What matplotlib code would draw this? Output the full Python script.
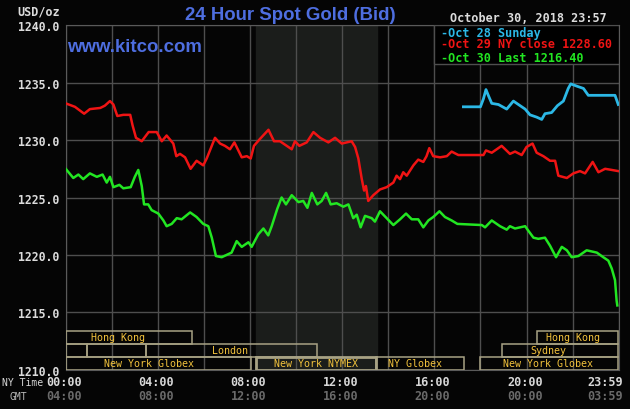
import matplotlib
matplotlib.use("Agg")
import matplotlib.pyplot as plt
import matplotlib.transforms as mtransforms
from matplotlib.patches import Rectangle

# hours after 00:00 NY time -> price in USD/oz
red_t = [0.0, 0.4, 0.8, 1.05, 1.5, 1.7, 1.92, 2.07, 2.24, 2.5, 2.8, 2.9, 3.05, 3.3, 3.6, 3.95,
         4.17, 4.38, 4.67, 4.8, 4.96, 5.18, 5.42, 5.68, 5.97, 6.12, 6.48, 6.7, 6.91, 7.13, 7.32,
         7.64, 7.86, 8.03, 8.17, 8.43, 8.8, 9.04, 9.3, 9.52, 9.81, 9.95, 10.14, 10.46, 10.75,
         11.04, 11.4, 11.69, 11.98, 12.41, 12.56, 12.7, 12.85, 12.95, 13.03, 13.13, 13.35, 13.64,
         13.93, 14.22, 14.36, 14.51, 14.65, 14.8, 15.09, 15.3, 15.52, 15.66, 15.78, 15.95, 16.25,
         16.54, 16.75, 17.04, 18.13, 18.24, 18.49, 18.92, 19.28, 19.5, 19.79, 20.0, 20.26, 20.44,
         20.73, 21.02, 21.24, 21.38, 21.75, 22.03, 22.32, 22.54, 22.87, 23.12, 23.41, 23.7, 23.98]
red_p = [1233.2, 1232.9, 1232.3, 1232.7, 1232.8, 1233.0, 1233.4, 1233.1, 1232.1, 1232.2, 1232.2,
         1231.3, 1230.2, 1229.9, 1230.7, 1230.7, 1229.9, 1230.4, 1229.7, 1228.6, 1228.8, 1228.5,
         1227.5, 1228.2, 1227.8, 1228.4, 1230.2, 1229.7, 1229.5, 1229.2, 1229.8, 1228.5, 1228.6,
         1228.4, 1229.5, 1230.1, 1230.9, 1229.9, 1229.9, 1229.6, 1229.2, 1229.9, 1229.5, 1229.8,
         1230.7, 1230.2, 1229.8, 1230.2, 1229.7, 1229.9, 1229.4, 1228.4, 1226.6, 1225.6, 1226.0,
         1224.7, 1225.2, 1225.7, 1225.9, 1226.3, 1226.9, 1226.6, 1227.2, 1226.9, 1227.8, 1228.3,
         1228.1, 1228.6, 1229.3, 1228.6, 1228.5, 1228.6, 1229.0, 1228.7, 1228.7, 1229.1, 1228.9,
         1229.5, 1228.8, 1229.0, 1228.7, 1229.4, 1229.7, 1228.9, 1228.6, 1228.2, 1228.2, 1226.9,
         1226.7, 1227.1, 1227.3, 1227.1, 1228.1, 1227.2, 1227.5, 1227.4, 1227.3]

green_t = [0.0, 0.33, 0.55, 0.76, 1.05, 1.35, 1.6, 1.78, 1.92, 2.07, 2.33, 2.5, 2.82, 3.0, 3.15,
           3.3, 3.4, 3.58, 3.73, 4.02, 4.24, 4.38, 4.6, 4.82, 5.03, 5.4, 5.68, 5.97, 6.19, 6.34,
           6.52, 6.77, 7.2, 7.42, 7.64, 7.93, 8.07, 8.36, 8.58, 8.79, 8.94, 9.18, 9.37, 9.56, 9.81,
           10.1, 10.31, 10.49, 10.68, 10.92, 11.11, 11.3, 11.5, 11.76, 12.05, 12.27, 12.48, 12.63,
           12.8, 12.99, 13.28, 13.42, 13.64, 13.93, 14.22, 14.51, 14.77, 15.02, 15.3, 15.52, 15.74,
           15.95, 16.22, 16.46, 16.75, 17.0, 18.06, 18.2, 18.49, 18.85, 19.14, 19.28, 19.5, 19.94,
           20.08, 20.3, 20.51, 20.8, 21.02, 21.28, 21.53, 21.75, 21.96, 22.25, 22.61, 23.05, 23.33,
           23.55, 23.7, 23.84, 23.91, 23.94]
green_p = [1227.5, 1226.7, 1227.0, 1226.6, 1227.1, 1226.8, 1227.0, 1226.3, 1226.8, 1225.9, 1226.1,
           1225.8, 1225.9, 1226.8, 1227.4, 1226.0, 1224.4, 1224.4, 1223.9, 1223.6, 1223.0, 1222.5,
           1222.7, 1223.2, 1223.1, 1223.7, 1223.3, 1222.7, 1222.5, 1221.5, 1219.9, 1219.8, 1220.2,
           1221.2, 1220.7, 1221.1, 1220.7, 1221.8, 1222.3, 1221.7, 1222.5, 1224.0, 1225.0, 1224.4,
           1225.2, 1224.6, 1224.7, 1224.1, 1225.4, 1224.4, 1224.7, 1225.4, 1224.4, 1224.5, 1224.2,
           1224.4, 1223.2, 1223.5, 1222.4, 1223.4, 1223.2, 1222.9, 1223.8, 1223.2, 1222.6, 1223.1,
           1223.6, 1223.1, 1223.1, 1222.4, 1223.0, 1223.3, 1223.8, 1223.3, 1223.0, 1222.7, 1222.6,
           1222.4, 1223.0, 1222.5, 1222.2, 1222.5, 1222.3, 1222.5, 1222.1, 1221.5, 1221.4, 1221.5,
           1220.8, 1219.8, 1220.7, 1220.4, 1219.8, 1219.9, 1220.4, 1220.2, 1219.8, 1219.5, 1218.8,
           1217.8, 1216.0, 1215.6]

cyan_t = [17.26, 18.0, 18.13, 18.24, 18.34, 18.49, 18.78, 19.14, 19.43, 19.72, 19.94, 20.15, 20.44,
          20.66, 20.8, 21.09, 21.34, 21.6, 21.81, 21.92, 22.18, 22.47, 22.68, 23.84, 23.98]
cyan_p = [1232.9, 1232.9, 1233.6, 1234.4, 1233.9, 1233.2, 1233.1, 1232.7, 1233.4, 1233.0, 1232.7,
          1232.2, 1232.0, 1231.8, 1232.3, 1232.4, 1233.0, 1233.4, 1234.5, 1234.9, 1234.7, 1234.5,
          1233.9, 1233.9, 1233.1]

legend_labels = ["Oct 28 Sunday", "Oct 29 NY close 1228.60", "Oct 30 Last 1216.40"]
ny_ticks = [0, 4, 8, 12, 16, 20, 24]
ny_labels = ["00:00", "04:00", "08:00", "12:00", "16:00", "20:00", "23:59"]
gmt_labels = ["04:00", "08:00", "12:00", "16:00", "20:00", "00:00", "03:59"]

# trading sessions: (label, row, start, end, label position)
sessions = [
    ("Hong Kong", 2, 0.0, 5.47, 2.29),
    ("Hong Kong", 2, 20.47, 23.95, 22.0),
    ("", 1, 0.0, 0.94, None),
    ("", 1, 0.94, 3.48, None),
    ("London", 1, 3.48, 10.9, 7.13),
    ("Sydney", 1, 18.95, 23.95, 20.93),
    ("New York Globex", 0, 0.0, 8.03, 3.61),
    ("New York NYMEX", 0, 8.26, 13.46, 10.86),
    ("NY Globex", 0, 13.46, 17.3, 15.16),
    ("New York Globex", 0, 18.0, 23.95, 20.93),
]
nymex_open, nymex_close = 8.26, 13.5

BG = "#050505"
GRID = "#4e4e4e"
MONO = "DejaVu Sans Mono"

fig = plt.figure(figsize=(6.3, 4.1), dpi=100, facecolor=BG)
ax = fig.add_axes([65.7 / 630, 1 - 370.7 / 410, 553 / 630, 344.4 / 410])
ax.set_facecolor(BG)
ax.set_xlim(0, 24)
ax.set_ylim(1210, 1240)

ax.axvspan(nymex_open, nymex_close, color="#1b1d1b", zorder=0)
ax.set_xticks(range(0, 25, 2))
ax.set_yticks(range(1210, 1241, 5))
ax.grid(True, color=GRID, lw=1.0, zorder=1)
ax.tick_params(length=0, labelbottom=False, pad=5)
ax.set_yticklabels(["%.1f" % v for v in range(1210, 1241, 5)], color="#dcdcdc",
                   family=MONO, fontweight="bold", fontsize=8.3)
for s in ax.spines.values():
    s.set_color("#5a5a5a")

ax.plot(red_t, red_p, color="#f01414", lw=1.8, zorder=3)
ax.plot(green_t, green_p, color="#22e622", lw=1.8, zorder=3)
ax.plot(cyan_t, cyan_p, color="#2cb8e6", lw=2.0, zorder=3)

# session boxes along the bottom
trans = mtransforms.blended_transform_factory(ax.transData, ax.transAxes)
row_h = 0.0375
for name, row, x0, x1, lx in sessions:
    lw = 2.0 if "NYMEX" in name else 1.1
    ax.add_patch(Rectangle((x0, row * row_h), x1 - x0, row_h, transform=trans, fill=False,
                           edgecolor="#a8a284", lw=lw, zorder=4))
    if name:
        ax.text(lx, row * row_h + row_h / 2, name, transform=trans, ha="center", va="center",
                color="#f2c23c", family=MONO, fontsize=7.2, zorder=5)

# legend box at top right
ax.add_patch(Rectangle((16, 1236.63), 8, 3.37, facecolor="#000000", edgecolor=GRID,
                       lw=1.0, zorder=6))
for lab, c, y in zip(legend_labels, ["#2cb8e6", "#f01414", "#22e622"], [33.3, 45, 58.5]):
    fig.text(441 / 630, 1 - y / 410, "-" + lab, color=c, family=MONO, fontweight="bold",
             fontsize=8.5, ha="left", va="center", zorder=7)

fig.text(290 / 630, 1 - 15 / 410, "24 Hour Spot Gold (Bid)", color="#4e6ee0",
         family="Liberation Sans", fontweight="bold", fontsize=13.4, ha="center", va="center")
fig.text(67 / 630, 1 - 48 / 410, "www.kitco.com", color="#4e6ee0", family="Liberation Sans",
         fontweight="bold", fontsize=13.4, ha="left", va="center", zorder=8)
fig.text(607 / 630, 1 - 19 / 410, "October 30, 2018 23:57", color="#dcdcdc", family=MONO,
         fontweight="bold", fontsize=8.5, ha="right", va="center")
fig.text(60 / 630, 1 - 12 / 410, "USD/oz", color="#dcdcdc", family=MONO, fontweight="bold",
         fontsize=8.5, ha="right", va="center")

# time axis labels
btrans = mtransforms.blended_transform_factory(ax.transData, fig.transFigure)
for t, ny, gmt in zip(ny_ticks, ny_labels, gmt_labels):
    ha = "right" if t == 24 else "center"
    xt = t + 0.19 if t == 24 else t - 0.08
    ax.text(xt, 1 - 382.5 / 410, ny, transform=btrans, ha=ha, va="center", color="#d8d8d8",
            family=MONO, fontweight="bold", fontsize=8.5)
    ax.text(xt, 1 - 396.5 / 410, gmt, transform=btrans, ha=ha, va="center", color="#6a6a6a",
            family=MONO, fontweight="bold", fontsize=8.5)
fig.text(43 / 630, 1 - 383.5 / 410, "NY Time", color="#d8d8d8", family=MONO, fontsize=7.0,
         ha="right", va="center")
fig.text(27 / 630, 1 - 397 / 410, "GMT", color="#bcbcbc", family=MONO, fontsize=7.0,
         ha="right", va="center")

fig.savefig("out.png", dpi=100, facecolor=BG)
